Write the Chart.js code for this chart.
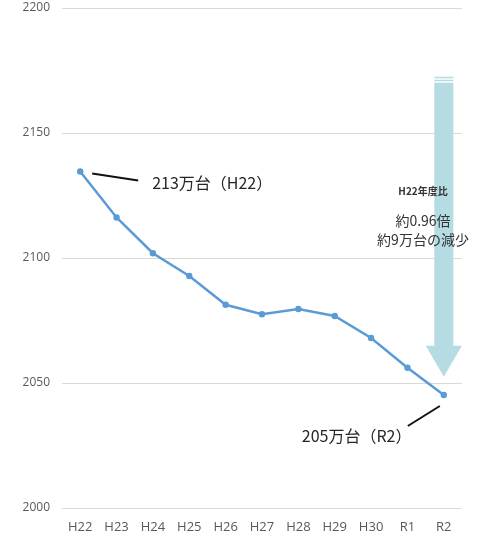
<!DOCTYPE html>
<html>
<head>
<meta charset="utf-8">
<script src="https://cdn.jsdelivr.net/npm/chart.js@4.4.1/dist/chart.umd.min.js"></script>
<style>
  html, body { margin: 0; padding: 0; background: #fff; }
  #wrap { width: 478px; height: 536px; }
</style>
</head>
<body>
<div id="wrap"><canvas id="carChart" width="478" height="536"></canvas></div>
<script>
// 保有台数の推移（万台）
var years = ['H22', 'H23', 'H24', 'H25', 'H26', 'H27', 'H28', 'H29', 'H30', 'R1', 'R2'];
var counts = [2134.6, 2116.2, 2101.9, 2092.8, 2081.3, 2077.5, 2079.6, 2076.8, 2068.0, 2056.1, 2045.2];
var yTicks = [2000, 2050, 2100, 2150, 2200];

// 減少を示す矢印（上端と先端の値）
var arrowTop = 2172.5;
var arrowTip = 2052.5;

var jpFont = '"Noto Sans CJK JP", "Noto Sans", sans-serif';
var tickFont = '"Open Sans", "Liberation Sans", sans-serif';

var annotations = {
    id: 'annotations',
    beforeDatasetsDraw: function (chart) {
        var ctx = chart.ctx;
        var x = chart.scales.x.getPixelForValue(years.length - 1);
        var yTop = chart.scales.y.getPixelForValue(arrowTop);
        var yTip = chart.scales.y.getPixelForValue(arrowTip);
        var headH = 31, headW = 18, shaftW = 9.5;
        ctx.save();
        ctx.fillStyle = '#b5dce3';
        // 上端の二重線
        ctx.fillRect(x - shaftW, yTop, shaftW * 2, 1.5);
        ctx.fillRect(x - shaftW, yTop + 3, shaftW * 2, 1.5);
        ctx.beginPath();
        ctx.moveTo(x - shaftW, yTop + 6);
        ctx.lineTo(x + shaftW, yTop + 6);
        ctx.lineTo(x + shaftW, yTip - headH);
        ctx.lineTo(x + headW, yTip - headH);
        ctx.lineTo(x, yTip);
        ctx.lineTo(x - headW, yTip - headH);
        ctx.lineTo(x - shaftW, yTip - headH);
        ctx.closePath();
        ctx.fill();
        ctx.restore();
    },
    afterDraw: function (chart) {
        var ctx = chart.ctx;
        var xs = chart.scales.x, ys = chart.scales.y;
        var last = years.length - 1;
        var x0 = xs.getPixelForValue(0), y0 = ys.getPixelForValue(counts[0]);
        var x1 = xs.getPixelForValue(last), y1 = ys.getPixelForValue(counts[last]);
        ctx.save();
        ctx.strokeStyle = '#111';
        ctx.lineWidth = 2;
        ctx.beginPath();
        ctx.moveTo(x0 + 12, y0 + 2);
        ctx.lineTo(x0 + 58, y0 + 9);
        ctx.moveTo(x1 - 4, y1 + 11);
        ctx.lineTo(x1 - 36, y1 + 31);
        ctx.stroke();

        ctx.fillStyle = '#262626';
        ctx.textBaseline = 'middle';
        ctx.textAlign = 'left';
        ctx.font = '16px ' + jpFont;
        ctx.fillText(Math.round(counts[0] / 10) + '万台（H22）', x0 + 72, y0 + 11);
        ctx.fillText(Math.round(counts[last] / 10) + '万台（R2）', x1 - 142, y1 + 41);

        ctx.textAlign = 'center';
        ctx.fillStyle = '#333';
        ctx.font = 'bold 10px ' + jpFont;
        ctx.fillText('H22年度比', 423, 191);
        ctx.font = '14px ' + jpFont;
        ctx.fillText('約0.96倍', 423, 221);
        ctx.fillText('約9万台の減少', 423, 240);
        ctx.restore();
    }
};

new Chart(document.getElementById('carChart'), {
    type: 'line',
    data: {
        labels: years,
        datasets: [{
            data: counts,
            borderColor: '#5b9bd5',
            backgroundColor: '#5b9bd5',
            borderWidth: 2.5,
            pointRadius: 3.2,
            pointBackgroundColor: '#5b9bd5',
            pointBorderWidth: 0,
            tension: 0
        }]
    },
    options: {
        responsive: false,
        animation: false,
        layout: { padding: { top: 8, right: 16, left: 0, bottom: 0 } },
        plugins: {
            legend: { display: false },
            tooltip: { enabled: false }
        },
        scales: {
            x: {
                offset: true,
                grid: { display: false, drawTicks: false },
                border: { display: false },
                ticks: {
                    color: '#595959',
                    padding: 11,
                    font: { family: tickFont, size: 13 }
                },
                afterFit: function (s) { s.height = 28; }
            },
            y: {
                min: 2000,
                max: 2200,
                afterBuildTicks: function (s) {
                    s.ticks = yTicks.map(function (v) { return { value: v }; });
                },
                grid: { color: '#d9d9d9', lineWidth: 1, drawTicks: false },
                border: { display: false },
                ticks: {
                    color: '#595959',
                    padding: 12,
                    font: { family: tickFont, size: 12 },
                    callback: function (v) { return String(v); }
                },
                afterFit: function (s) {
                    s.width = 62;
                    s.paddingTop = 0;
                    s.paddingBottom = 0;
                }
            }
        }
    },
    plugins: [annotations]
});
</script>
</body>
</html>
